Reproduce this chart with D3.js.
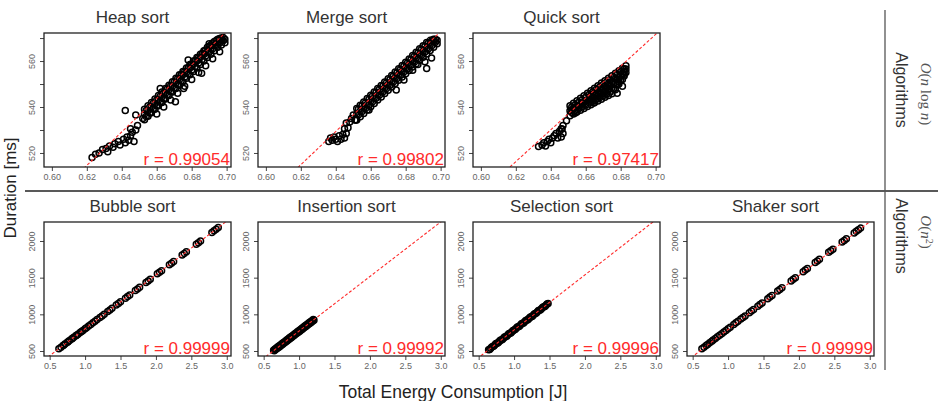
<!DOCTYPE html>
<html>
<head>
<meta charset="utf-8">
<script src="https://cdn.jsdelivr.net/npm/d3@7"></script>
<style>
  body { margin: 0; background: #fff; }
  text { font-family: 'Liberation Sans', Arial, sans-serif; }
</style>
</head>
<body>
<div id="chart"></div>
<script>

// values
const topTitles = ['Heap sort', 'Merge sort', 'Quick sort']
const bottomTitles = ['Bubble sort', 'Insertion sort', 'Selection sort', 'Shaker sort']
const topR = ['0.99054', '0.99802', '0.97417']
const bottomR = ['0.99999', '0.99992', '0.99996', '0.99999']

// red dashed fit lines: duration = intercept + slope * energy
const topIntercepts = [62.6, 66, 87.2]
const topSlopes = [729, 724, 692]
const bottomIntercepts = [69, 28, 35.5, 58]
const bottomSlopes = [734, 744, 751, 735]

const topXTicks = [0.60, 0.62, 0.64, 0.66, 0.68, 0.70]
const topYTicks = [520, 530, 540, 550, 560, 570]
const topYLabels = [520, 540, 560]
const bottomXTicks = [0.5, 1.0, 1.5, 2.0, 2.5, 3.0]
const bottomYTicks = [500, 1000, 1500, 2000]

const heapPoints = [
  [0.623,518],[0.625,519.5],[0.627,520],[0.629,521.5],[0.631,522],[0.632,520.5],[0.633,523],[0.635,522.5],
  [0.636,524],[0.638,525],[0.639,523.5],[0.641,526],[0.642,524.5],[0.643,527],[0.644,525.5],[0.645,527.5],
  [0.646,529],[0.647,525],[0.648,530],[0.645,530.5],[0.649,532],[0.648,536.5],[0.642,538.5],[0.652,535],
  [0.653,534.5],[0.653,537],[0.653,539],[0.655,536],[0.655,538.5],[0.655,540.5],
  [0.657,537.5],[0.657,540],[0.657,542],[0.659,539],[0.659,541.5],[0.659,543.5],
  [0.661,540.5],[0.661,543],[0.661,545],[0.663,542],[0.663,544.5],[0.663,546.5],
  [0.665,543.5],[0.665,546],[0.665,548],[0.667,545],[0.667,547.5],[0.667,549.5],
  [0.669,546.5],[0.669,549],[0.669,551],[0.671,548],[0.671,550.5],[0.671,552.5],
  [0.673,549.5],[0.673,552],[0.673,554],[0.675,551],[0.675,554],[0.675,555.5],
  [0.677,552.5],[0.677,555],[0.677,557],[0.679,554],[0.679,557],[0.679,558.5],
  [0.681,555.5],[0.681,558.5],[0.681,560],[0.683,557],[0.683,560],[0.683,561.5],
  [0.685,558.5],[0.685,561.5],[0.685,563],[0.687,560],[0.687,563],[0.687,564.5],
  [0.689,561.5],[0.689,564],[0.689,566],[0.691,563],[0.691,565.5],[0.691,567],
  [0.693,564.5],[0.693,567],[0.693,568.5],[0.695,566],[0.695,568],[0.695,569.5],
  [0.697,567],[0.697,569],[0.697,570],[0.699,568],[0.699,569.5],
  [0.654,535.9],[0.654,538.5],[0.656,537.4],[0.656,540.0],[0.658,539.0],[0.658,541.6],
  [0.660,540.5],[0.660,543.1],[0.662,542.1],[0.662,544.7],[0.664,543.6],[0.664,546.2],
  [0.666,545.2],[0.666,547.8],[0.668,546.7],[0.668,549.3],[0.670,548.3],[0.670,550.9],
  [0.672,549.8],[0.672,552.4],[0.674,551.4],[0.674,554.0],[0.676,552.9],[0.676,555.5],
  [0.678,554.5],[0.678,557.1],[0.680,556.0],[0.680,558.6],[0.682,557.6],[0.682,560.2],
  [0.684,559.1],[0.684,561.7],[0.686,560.7],[0.686,563.3],[0.688,562.2],[0.688,564.8],
  [0.690,563.8],[0.690,566.4],[0.692,565.3],[0.692,567.9],[0.694,566.9],[0.694,569.0],
  [0.696,568.0],[0.696,569.8],[0.698,568.8],[0.698,570.2],
  [0.660,537],[0.664,540],[0.668,543],[0.672,546],[0.676,549],[0.680,552],[0.684,555],[0.688,558],
  [0.692,561],[0.696,564],[0.6707,542.3],[0.6754,548],[0.6857,554.7],[0.662,548],[0.678,560.5],[0.690,567.5]
]

const mergePoints = [
  [0.636,525],[0.637,526.5],[0.638,525.5],[0.639,527],[0.640,526],[0.641,525],[0.642,527.5],[0.643,526],
  [0.644,528],[0.645,526.5],[0.646,528.5],[0.645,530.5],[0.647,531],[0.646,533],[0.648,533.5],[0.649,535],
  [0.650,536.5],[0.651,534.3],
  [0.652,534.3],[0.652,536.8],[0.652,539.3],[0.654,535.8],[0.654,538.3],[0.654,540.8],
  [0.656,537.2],[0.656,539.7],[0.656,542.2],[0.658,538.7],[0.658,541.2],[0.658,543.7],
  [0.660,540.1],[0.660,542.6],[0.660,545.1],[0.662,541.5],[0.662,544.0],[0.662,546.5],
  [0.664,543.0],[0.664,545.5],[0.664,548.0],[0.666,544.4],[0.666,546.9],[0.666,549.4],
  [0.668,545.9],[0.668,548.4],[0.668,550.9],[0.670,547.3],[0.670,549.8],[0.670,552.3],
  [0.672,548.7],[0.672,551.2],[0.672,553.7],[0.674,550.2],[0.674,552.7],[0.674,555.2],
  [0.676,551.6],[0.676,554.1],[0.676,556.6],[0.678,553.1],[0.678,555.6],[0.678,558.1],
  [0.680,554.5],[0.680,557.0],[0.680,559.5],[0.682,555.9],[0.682,558.4],[0.682,560.9],
  [0.684,557.4],[0.684,559.9],[0.684,562.4],[0.686,558.8],[0.686,561.3],[0.686,563.8],
  [0.688,560.3],[0.688,562.8],[0.688,565.3],[0.690,561.7],[0.690,564.2],[0.690,566.7],
  [0.692,563.1],[0.692,565.6],[0.692,568.1],[0.694,564.6],[0.694,567.1],[0.694,569.0],
  [0.696,566.0],[0.696,568.5],[0.696,569.5],[0.698,567.5],[0.698,569.0],
  [0.653,536.6],[0.653,539.1],[0.655,538.0],[0.655,540.5],[0.657,539.4],[0.657,541.9],
  [0.659,540.9],[0.659,543.4],[0.661,542.3],[0.661,544.8],[0.663,543.8],[0.663,546.3],
  [0.665,545.2],[0.665,547.7],[0.667,546.6],[0.667,549.1],[0.669,548.1],[0.669,550.6],
  [0.671,549.5],[0.671,552.0],[0.673,551.0],[0.673,553.5],[0.675,552.4],[0.675,554.9],
  [0.677,553.8],[0.677,556.3],[0.679,555.3],[0.679,557.8],[0.681,556.7],[0.681,559.2],
  [0.683,558.2],[0.683,560.7],[0.685,559.6],[0.685,562.1],[0.687,561.0],[0.687,563.5],
  [0.689,562.5],[0.689,565.0],[0.691,563.9],[0.691,566.4],[0.693,565.4],[0.693,567.9],
  [0.695,566.8],[0.695,569.0],[0.697,568.2],[0.697,569.5],
  [0.691,559.7],[0.692,556.8],[0.679,551.7],[0.6746,547.4],[0.659,538.7],[0.6514,534.3],
  [0.6948,561.3],[0.687,558.5],[0.684,556]
]

const quickPoints = [
  [0.633,522.8],[0.635,523.5],[0.636,524.5],[0.638,525],[0.639,526],[0.641,526.5],[0.642,527.5],[0.643,528.5],
  [0.645,529.5],[0.646,530.5],[0.647,532],[0.644,526.5],[0.646,527],[0.647,528.5],[0.6465,530.4],[0.637,523],
  [0.640,524.5],
  [0.651,540.5],[0.651,538.4],[0.651,536.2],[0.653,541.6],[0.653,539.3],[0.653,537],
  [0.655,542.7],[0.655,540.3],[0.655,537.8],[0.657,543.8],[0.657,541.2],[0.657,538.6],
  [0.659,544.9],[0.659,542.2],[0.659,539.4],[0.661,546.0],[0.661,543.1],[0.661,540.2],
  [0.663,547.1],[0.663,545.0],[0.663,543.0],[0.663,541.0],[0.665,548.2],[0.665,546.0],[0.665,543.9],[0.665,541.8],
  [0.667,549.3],[0.667,547.0],[0.667,544.8],[0.667,542.6],[0.669,550.4],[0.669,548.0],[0.669,545.7],[0.669,543.4],
  [0.671,551.4],[0.671,549.0],[0.671,546.6],[0.671,544.2],[0.673,552.5],[0.673,550.0],[0.673,547.5],[0.673,545.0],
  [0.675,553.6],[0.675,551.0],[0.675,548.4],[0.675,545.8],[0.677,554.7],[0.677,552.3],[0.677,549.9],[0.677,547.5],
  [0.679,555.8],[0.679,552.9],[0.679,550.0],[0.681,556.9],[0.681,554.5],[0.681,552.0],
  [0.683,558.0],[0.683,556.5],[0.683,555.0],
  [0.652,540.0],[0.652,538.8],[0.652,537.6],[0.654,541.0],[0.654,539.7],[0.654,538.5],
  [0.656,542.1],[0.656,540.7],[0.656,539.3],[0.658,543.2],[0.658,541.6],[0.658,540.1],
  [0.660,544.3],[0.660,542.6],[0.660,540.9],[0.662,545.4],[0.662,543.5],[0.662,541.7],
  [0.664,546.5],[0.664,544.5],[0.664,542.5],[0.666,547.6],[0.666,545.4],[0.666,543.3],
  [0.668,548.7],[0.668,546.4],[0.668,544.1],[0.670,549.8],[0.670,547.3],[0.670,544.9],
  [0.672,550.9],[0.672,548.3],[0.672,545.7],[0.674,552.0],[0.674,549.2],[0.674,546.5],
  [0.676,553.1],[0.676,550.4],[0.676,547.7],[0.678,554.2],[0.678,551.9],[0.678,549.7],
  [0.680,555.3],[0.680,553.4],[0.680,551.7],[0.682,556.6],[0.682,555.3],[0.682,554.2],
  [0.6644,541.7],[0.676,548],[0.654,537.4],[0.681,549],[0.678,546],[0.649,534],[0.679,551],[0.682,553.5]
]

const bubblePoints = [
  [0.63,531],[0.66,553],[0.69,575],[0.70,583],[0.72,598],[0.75,620],
  [0.76,627],[0.78,642],[0.81,664],[0.82,671],[0.84,686],[0.87,708],
  [0.88,715],[0.90,730],[0.93,752],[0.95,766],[0.97,781],[1.00,803],
  [1.02,818],[1.05,840],[1.08,862],[1.11,884],[1.14,906],[1.17,928],
  [1.21,957],[1.24,979],[1.27,1001],[1.32,1038],[1.35,1060],[1.38,1082],
  [1.44,1126],[1.47,1148],[1.50,1170],[1.57,1221],[1.60,1243],[1.63,1265],
  [1.71,1324],[1.74,1346],[1.77,1368],[1.86,1434],[1.89,1456],[1.92,1478],
  [2.02,1552],[2.05,1574],[2.08,1596],[2.19,1676],[2.22,1698],[2.25,1720],
  [2.37,1809],[2.40,1831],[2.43,1853],[2.57,1955],[2.60,1977],[2.63,1999],
  [2.79,2117],[2.82,2139],[2.85,2161],[2.88,2183]
]

const insertionPoints = [
  [0.64,512],[0.65,504],[0.66,527],[0.67,519],[0.68,542],[0.69,533],[0.70,557],[0.71,548],
  [0.72,572],[0.73,563],[0.74,587],[0.75,578],[0.76,601],[0.77,593],[0.78,616],[0.79,608],
  [0.80,631],[0.81,623],[0.82,646],[0.83,638],[0.84,661],[0.85,652],[0.86,676],[0.87,667],
  [0.88,691],[0.89,682],[0.90,706],[0.91,697],[0.92,720],[0.93,712],[0.94,735],[0.95,727],
  [0.96,750],[0.97,742],[0.98,765],[0.99,757],[1.00,780],[1.01,771],[1.02,795],[1.03,786],
  [1.04,810],[1.05,801],[1.06,825],[1.07,816],[1.08,840],[1.09,831],[1.10,854],[1.11,846],
  [1.12,869],[1.13,861],[1.14,884],[1.15,876],[1.16,899],[1.17,890],[1.18,914],[1.19,905],
  [1.20,929],[1.21,920]
]

const selectionPoints = [
  [0.64,516],[0.67,539],[0.70,561],[0.73,584],[0.76,606],[0.79,629],[0.82,651],[0.85,674],
  [0.88,696],[0.91,719],[0.94,741],[0.97,764],[1.00,787],[1.03,809],[1.06,832],[1.09,854],
  [1.12,877],[1.15,899],[1.18,922],[1.21,944],[1.24,967],[1.27,989],[1.30,1012],[1.33,1034],
  [1.36,1057],[1.39,1079],[1.42,1102],[1.45,1124],[1.48,1147],
  [0.655,521],[0.685,556],[0.715,567],[0.745,601],[0.775,612],[0.805,646],[0.835,657],[0.865,691],
  [0.895,702],[0.925,736],[0.955,747],[0.985,781],[1.015,792],[1.045,826],[1.075,837],[1.105,871],
  [1.135,882],[1.165,916],[1.195,927],[1.225,961],[1.255,972],[1.285,1006],[1.315,1017],[1.345,1051],
  [1.375,1062],[1.405,1096],[1.435,1108],[1.465,1141]
]

const shakerPoints = [
  [0.63,531],[0.66,553],[0.69,575],[0.71,590],[0.74,612],[0.77,634],
  [0.79,649],[0.82,671],[0.85,693],[0.88,715],[0.91,737],[0.94,759],
  [0.97,781],[1.00,803],[1.03,825],[1.08,862],[1.11,884],[1.14,906],
  [1.18,935],[1.21,957],[1.24,979],[1.30,1023],[1.33,1045],[1.36,1067],
  [1.42,1111],[1.45,1133],[1.48,1155],[1.56,1214],[1.59,1236],[1.62,1258],
  [1.70,1317],[1.73,1339],[1.76,1361],[1.89,1456],[1.92,1478],[1.95,1500],
  [2.06,1581],[2.09,1603],[2.12,1625],[2.23,1706],[2.26,1728],[2.29,1750],
  [2.42,1845],[2.45,1867],[2.48,1889],[2.61,1985],[2.64,2007],[2.67,2029],
  [2.78,2110],[2.81,2132],[2.84,2154],[2.87,2176]
]

const topData = [heapPoints, mergePoints, quickPoints]
const bottomData = [bubblePoints, insertionPoints, selectionPoints, shakerPoints]

// layout
const WIDTH = 938
const HEIGHT = 401
const colX = [44, 258, 473, 687]
const rowY = [33, 222]
const PW = 187
const PH = 134
const RED = '#ff2b2b'

const svg = d3.select('#chart')
  .append('svg')
  .attr('width', WIDTH)
  .attr('height', HEIGHT)

const rows = [
  {
    titles: topTitles, data: topData, r: topR, a: topIntercepts, b: topSlopes,
    xdom: [0.5955, 0.7025], ydom: [513.9, 572.2],
    xticks: topXTicks, xfmt: d3.format('.2f'),
    yticks: topYTicks, yfmt: d => topYLabels.includes(d) ? d : ''
  },
  {
    titles: bottomTitles, data: bottomData, r: bottomR, a: bottomIntercepts, b: bottomSlopes,
    xdom: [0.42, 3.06], ydom: [432, 2259],
    xticks: bottomXTicks, xfmt: d3.format('.1f'),
    yticks: bottomYTicks, yfmt: d => d
  }
]

let clipId = 0

rows.forEach((row, ri) => {
  row.titles.forEach((title, ci) => {
    const g = svg.append('g')
      .attr('transform', `translate(${colX[ci]},${rowY[ri]})`)

    const x = d3.scaleLinear().domain(row.xdom).range([0, PW])
    const y = d3.scaleLinear().domain(row.ydom).range([PH, 0])

    const id = 'clip' + (clipId++)
    g.append('clipPath').attr('id', id)
      .append('rect').attr('width', PW).attr('height', PH)

    const plot = g.append('g').attr('clip-path', `url(#${id})`)

    plot.selectAll('circle')
      .data(row.data[ci])
      .enter()
      .append('circle')
      .attr('cx', d => x(d[0]))
      .attr('cy', d => y(d[1]))
      .attr('r', 3)
      .attr('fill', 'none')
      .attr('stroke', '#000')
      .attr('stroke-width', 1.5)

    const fit = xv => row.a[ci] + row.b[ci] * xv
    plot.append('path')
      .datum(row.xdom)
      .attr('d', d3.line().x(d => x(d)).y(d => y(fit(d))))
      .attr('fill', 'none')
      .attr('stroke', RED)
      .attr('stroke-width', 1.1)
      .attr('stroke-dasharray', '3,2')

    // axes
    const xAxis = g.append('g')
      .attr('transform', `translate(0,${PH})`)
      .call(d3.axisBottom(x).tickValues(row.xticks).tickFormat(row.xfmt).tickSize(4))
    xAxis.select('.domain').remove()
    xAxis.selectAll('line').attr('stroke', '#444')
    xAxis.selectAll('text').attr('fill', '#666').style('font-size', '9px')
      .style('font-family', "'Liberation Sans', Arial, sans-serif")

    const yAxis = g.append('g')
      .call(d3.axisLeft(y).tickValues(row.yticks).tickFormat(row.yfmt).tickSize(4))
    yAxis.select('.domain').remove()
    yAxis.selectAll('line').attr('stroke', '#444')
    yAxis.selectAll('text')
      .attr('x', null).attr('dy', null)
      .attr('transform', 'translate(-9.5,0) rotate(-90)')
      .attr('text-anchor', 'middle')
      .attr('fill', '#666').style('font-size', '9px')
      .style('font-family', "'Liberation Sans', Arial, sans-serif")

    g.append('rect')
      .attr('width', PW).attr('height', PH)
      .attr('fill', 'none')
      .attr('stroke', '#222')
      .attr('stroke-width', 1.3)

    g.append('text')
      .attr('x', PW / 2 - 5)
      .attr('y', -10)
      .attr('text-anchor', 'middle')
      .attr('fill', '#333')
      .style('font-size', '17px')
      .text(title)

    g.append('text')
      .attr('x', PW - 1)
      .attr('y', PH - 2)
      .attr('text-anchor', 'end')
      .attr('fill', RED)
      .style('font-size', '17px')
      .text('r = ' + row.r[ci])
  })
})

// separators
svg.append('line')
  .attr('x1', 25).attr('x2', WIDTH).attr('y1', 191).attr('y2', 191)
  .attr('stroke', '#222').attr('stroke-width', 1.3)
svg.append('line')
  .attr('x1', 885).attr('x2', 885).attr('y1', 10).attr('y2', 370)
  .attr('stroke', '#555').attr('stroke-width', 1.3)

// axis titles
svg.append('text')
  .attr('transform', 'translate(16,188) rotate(-90)')
  .attr('text-anchor', 'middle')
  .attr('fill', '#222')
  .style('font-size', '17px')
  .text('Duration [ms]')

svg.append('text')
  .attr('x', 453).attr('y', 398)
  .attr('text-anchor', 'middle')
  .attr('fill', '#222')
  .style('font-size', '17.5px')
  .text('Total Energy Consumption [J]')

// row labels on the right
const serif = "'Liberation Serif', 'DejaVu Serif', serif"

const topO = svg.append('text')
  .attr('transform', 'translate(921,94) rotate(90)')
  .attr('text-anchor', 'middle')
  .attr('fill', '#555')
  .style('font-family', serif)
  .style('font-size', '15px')
topO.append('tspan').style('font-style', 'italic').text('O')
topO.append('tspan').text('(')
topO.append('tspan').style('font-style', 'italic').text('n')
topO.append('tspan').text(' log ')
topO.append('tspan').style('font-style', 'italic').text('n')
topO.append('tspan').text(')')

const botO = svg.append('text')
  .attr('transform', 'translate(921,232) rotate(90)')
  .attr('text-anchor', 'middle')
  .attr('fill', '#555')
  .style('font-family', serif)
  .style('font-size', '15px')
botO.append('tspan').style('font-style', 'italic').text('O')
botO.append('tspan').text('(')
botO.append('tspan').style('font-style', 'italic').text('n')
botO.append('tspan').attr('dy', -5).style('font-size', '10px').text('2')
botO.append('tspan').attr('dy', 5).text(')')

svg.selectAll('.alg')
  .data([90, 236])
  .enter()
  .append('text')
  .attr('class', 'alg')
  .attr('transform', d => `translate(896,${d}) rotate(90)`)
  .attr('text-anchor', 'middle')
  .attr('fill', '#333')
  .style('font-size', '16px')
  .text('Algorithms')

</script>
</body>
</html>
